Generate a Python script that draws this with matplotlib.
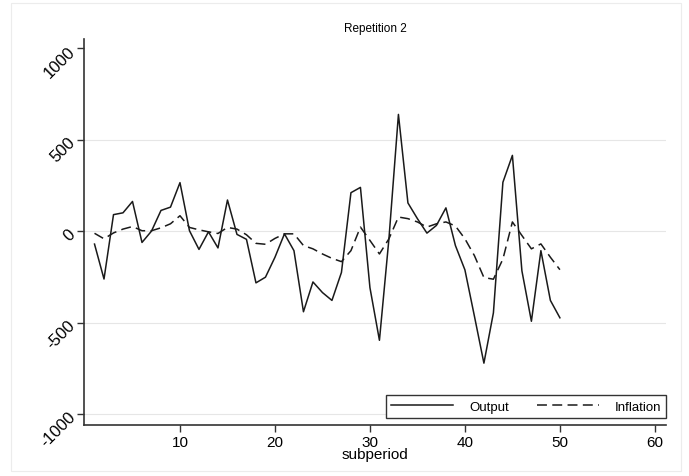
import matplotlib
matplotlib.use("Agg")
import matplotlib.pyplot as plt
from matplotlib.patches import Rectangle

plt.rcParams['font.family'] = ['Liberation Sans', 'DejaVu Sans']

# Werte
subperiod = list(range(1, 51))
output = [-71, -262, 90, 100, 162, -62, 0, 113, 131, 265,
          2, -100, -4, -92, 170, -18, -45, -283, -252, -143,
          -15, -107, -441, -278, -336, -379, -226, 210, 239, -309,
          -597, -42, 638, 154, 68, -11, 31, 127, -79, -212,
          -465, -722, -447, 267, 414, -217, -493, -107, -379, -474]
inflation = [-12, -42, -10, 11, 25, 2, 2, 18, 40, 84,
             20, 7, -4, -13, 20, 11, -20, -67, -72, -40,
             -15, -15, -79, -97, -125, -149, -167, -107, 22, -51,
             -125, -42, 77, 68, 50, 22, 40, 50, 28, -42,
             -134, -254, -263, -153, 50, -24, -97, -70, -143, -211]
xticks = [10, 20, 30, 40, 50, 60]
yticks = [-1000, -500, 0, 500, 1000]

fig = plt.figure(figsize=(6.89, 4.77), dpi=100)
ax = fig.add_axes([0.122, 0.107, 0.845, 0.809])

# heller Rahmen um die ganze Grafik
fig.patches.append(Rectangle((0.016, 0.01), 0.973, 0.982, transform=fig.transFigure,
                             fill=False, edgecolor='#ececec', linewidth=0.8))

ax.plot(subperiod, output, color='#1a1a1a', linewidth=1.1, label='Output')
ax.plot(subperiod, inflation, color='#1a1a1a', linewidth=1.1,
        linestyle=(0, (6.5, 3.5)), label='Inflation')

ax.set_xlim(-0.1, 61.2)
ax.set_ylim(-1060, 1050)
ax.set_xticks(xticks)
ax.set_yticks(yticks)
ax.set_yticklabels([str(v) for v in yticks], rotation=45, ha='right', va='center',
                   rotation_mode='anchor', fontsize=12)
ax.tick_params(axis='x', labelsize=11, length=5, width=1.0, color='#333333', pad=2)
ax.tick_params(axis='y', length=5, width=1.0, color='#333333', pad=3)

ax.yaxis.grid(True, color='#e6e6e6', linewidth=0.8)
ax.get_ygridlines()[-1].set_visible(False)
ax.set_axisbelow(True)

for s in ['top', 'right']:
    ax.spines[s].set_visible(False)
for s in ['left', 'bottom']:
    ax.spines[s].set_color('#333333')
    ax.spines[s].set_linewidth(1.2)

ax.set_xlabel("subperiod", fontsize=11, labelpad=-1)
ax.set_title("Repetition 2", fontsize=8.5, pad=6)

leg = ax.legend(loc='lower right', bbox_to_anchor=(1.0, 0.018), ncol=2, fontsize=9.5,
                handlelength=4.7, columnspacing=2.1, handletextpad=1.2,
                borderaxespad=0, fancybox=False, framealpha=1, borderpad=0.4)
leg.get_frame().set_edgecolor('#333333')
leg.get_frame().set_linewidth(1.0)

fig.savefig("out.png", dpi=100)
